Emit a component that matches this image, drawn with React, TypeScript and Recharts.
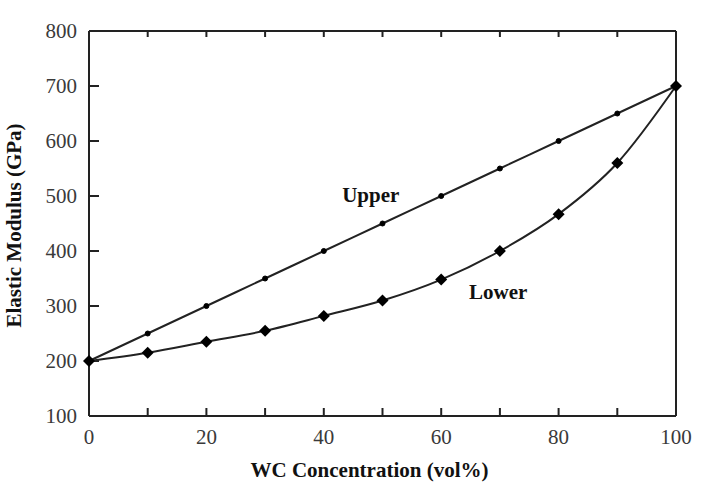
import React from "react";
import {
  LineChart,
  Line,
  XAxis,
  YAxis,
  ReferenceDot,
} from "recharts";

const wcConc = [0, 10, 20, 30, 40, 50, 60, 70, 80, 90, 100];
const upperModulus = [200, 250, 300, 350, 400, 450, 500, 550, 600, 650, 700];
const lowerModulus = [200, 215, 235, 255, 282, 310, 348, 400, 467, 560, 700];
const xTicks = [0, 10, 20, 30, 40, 50, 60, 70, 80, 90, 100];
const yTicks = [100, 200, 300, 400, 500, 600, 700, 800];

const data = wcConc.map((wc, i) => ({
  wc,
  upper: upperModulus[i],
  lower: lowerModulus[i],
}));

const INK = "#222";
const SERIF = "'Liberation Serif', 'Times New Roman', serif";
const FS = 21;

// axes are mirrored so the tick marks point into the plot; these only draw the numbers
const BottomTick = (props: any) => {
  const { x, y, payload } = props;
  if (payload.value % 20 !== 0) return <g />;
  return (
    <text x={x} y={y + 36} textAnchor="middle" fontFamily={SERIF} fontSize={FS} fill="#3a3a3a">
      {payload.value}
    </text>
  );
};

const LeftTick = (props: any) => {
  const { x, y, payload } = props;
  return (
    <text x={x - 22} y={y + 7} textAnchor="end" fontFamily={SERIF} fontSize={FS} fill="#3a3a3a">
      {payload.value}
    </text>
  );
};

// top/right frame: tick marks only
const EmptyTick = () => <g />;

const Diamond = (props: any) => {
  const { cx, cy } = props;
  if (cx == null || cy == null) return null;
  const s = 6;
  return (
    <polygon
      points={`${cx},${cy - s} ${cx + s},${cy} ${cx},${cy + s} ${cx - s},${cy}`}
      fill="#000"
    />
  );
};

const noteLabel = (value: string) => ({
  value,
  position: "center" as const,
  fontFamily: SERIF,
  fontWeight: "bold",
  fontSize: FS,
  fill: "#111",
});

export default function App() {
  const axisLine = { stroke: INK, strokeWidth: 2 };
  const tickLine = { stroke: INK, strokeWidth: 2 };
  return (
    <div style={{ position: "absolute", left: 0, top: 0, background: "#fff" }}>
      <LineChart
        width={719}
        height={491}
        data={data}
        margin={{ top: 31, right: 43, bottom: 75, left: 89 }}
      >
        <XAxis
          dataKey="wc"
          type="number"
          domain={[0, 100]}
          ticks={xTicks}
          interval={0}
          mirror
          height={75}
          axisLine={axisLine}
          tickLine={tickLine}
          tickSize={8}
          tickMargin={0}
          tick={<BottomTick />}
          label={{
            content: ({ viewBox }: any) => (
              <text
                x={viewBox.x + viewBox.width / 2 - 13}
                y={viewBox.y + viewBox.height + 61}
                textAnchor="middle"
                fontFamily={SERIF}
                fontWeight="bold"
                fontSize={FS}
                fill="#111"
              >
                WC Concentration (vol%)
              </text>
            ),
          }}
        />
        <XAxis
          xAxisId="top"
          orientation="top"
          dataKey="wc"
          type="number"
          domain={[0, 100]}
          ticks={xTicks}
          interval={0}
          mirror
          height={31}
          axisLine={axisLine}
          tickLine={tickLine}
          tickSize={6}
          tick={<EmptyTick />}
        />
        <YAxis
          type="number"
          domain={[100, 800]}
          ticks={yTicks}
          interval={0}
          mirror
          width={89}
          axisLine={axisLine}
          tickLine={tickLine}
          tickSize={10}
          tickMargin={0}
          tick={<LeftTick />}
          label={{
            content: ({ viewBox }: any) => {
              const cx = viewBox.x - 75;
              const cy = viewBox.y + viewBox.height / 2 + 2;
              return (
                <text
                  x={cx}
                  y={cy}
                  transform={`rotate(-90 ${cx} ${cy})`}
                  textAnchor="middle"
                  dominantBaseline="central"
                  fontFamily={SERIF}
                  fontWeight="bold"
                  fontSize={FS}
                  fill="#111"
                >
                  Elastic Modulus (GPa)
                </text>
              );
            },
          }}
        />
        <YAxis
          yAxisId="right"
          orientation="right"
          type="number"
          domain={[100, 800]}
          ticks={yTicks}
          interval={0}
          mirror
          width={43}
          axisLine={axisLine}
          tickLine={tickLine}
          tickSize={7}
          tick={<EmptyTick />}
        />
        <Line
          type="monotone"
          dataKey="upper"
          stroke={INK}
          strokeWidth={2}
          dot={{ r: 2.5, fill: "#000", stroke: "#000", strokeWidth: 1 }}
          activeDot={false}
          isAnimationActive={false}
        />
        <Line
          type="monotone"
          dataKey="lower"
          stroke={INK}
          strokeWidth={2}
          dot={<Diamond />}
          activeDot={false}
          isAnimationActive={false}
        />
        <ReferenceDot x={48} y={502} r={0} label={noteLabel("Upper")} />
        <ReferenceDot x={69.7} y={327} r={0} label={noteLabel("Lower")} />
      </LineChart>
    </div>
  );
}
